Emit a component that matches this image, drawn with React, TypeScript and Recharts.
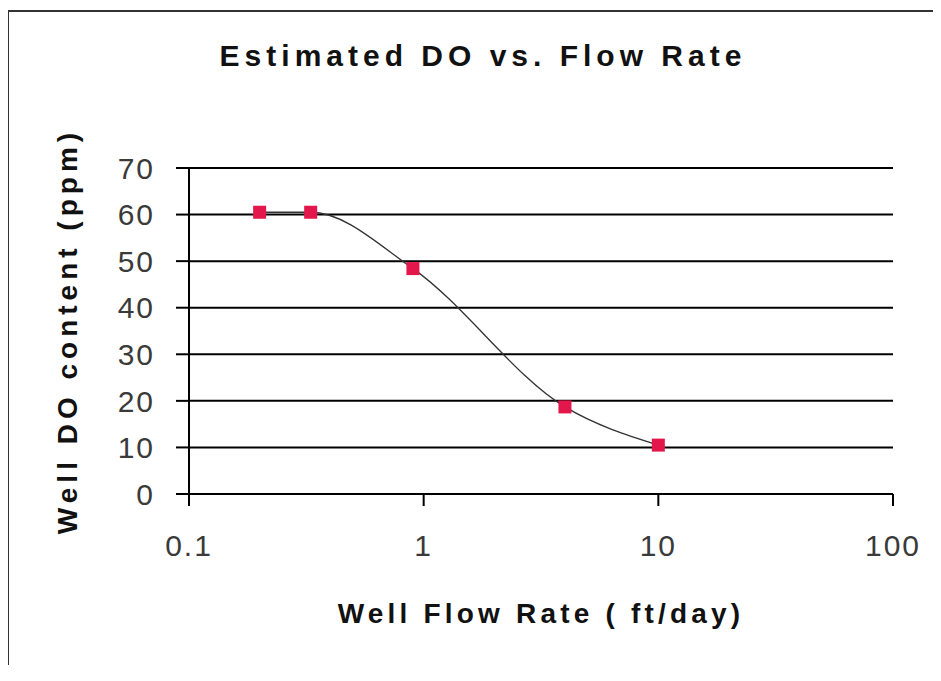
import { LineChart, Line, XAxis, YAxis, CartesianGrid } from 'recharts';

const flowRate = [0.2, 0.33, 0.9, 4, 10];
const doContent = [60.5, 60.5, 48.4, 18.7, 10.5];
const xTicks = [0.1, 1, 10, 100];
const yTicks = [0, 10, 20, 30, 40, 50, 60, 70];

const FONT = '"Liberation Sans", Arial, sans-serif';
const MARKER = '#e3174b';

const data = flowRate.map((x, i) => ({ x, y: doContent[i] }));

function SquareDot(props: any) {
  const { cx, cy, index } = props;
  if (cx == null || cy == null) return null;
  return <rect key={index} x={cx - 6.5} y={cy - 6.5} width={13} height={13} fill={MARKER} />;
}

export default function App() {
  return (
    <div
      style={{
        position: 'relative',
        top: 2,
        left: -1,
        width: 933,
        height: 655,
        borderTop: '2px solid #333',
        borderLeft: '2px solid #333',
        background: '#fff',
        fontFamily: FONT,
      }}
    >
      <div
        style={{
          position: 'absolute',
          top: 27,
          left: 0,
          width: 948,
          textAlign: 'center',
          fontSize: 30,
          fontWeight: 'bold',
          letterSpacing: 5,
          color: '#111',
        }}
      >
        Estimated DO vs. Flow Rate
      </div>
      <LineChart width={933} height={655} data={data} margin={{ top: 156, right: 49, left: 0, bottom: 143 }}>
        <CartesianGrid vertical={false} stroke="#000" strokeWidth={2} />
        <XAxis
          dataKey="x"
          type="number"
          scale="log"
          domain={[0.1, 100]}
          ticks={xTicks}
          allowDataOverflow
          tickFormatter={(v: number) => String(v)}
          tick={{ fill: '#3a3a3a', fontSize: 30, fontFamily: FONT, letterSpacing: 2 }}
          tickSize={12}
          tickMargin={29}
          axisLine={{ stroke: '#000', strokeWidth: 2 }}
          tickLine={{ stroke: '#000', strokeWidth: 2 }}
          height={30}
          label={{
            value: 'Well Flow Rate ( ft/day)',
            position: 'bottom',
            offset: 79,
            fill: '#111',
            fontSize: 28,
            fontWeight: 'bold',
            fontFamily: FONT,
            letterSpacing: 4.2,
          }}
        />
        <YAxis
          type="number"
          domain={[0, 70]}
          ticks={yTicks}
          width={180}
          tick={{ fill: '#3a3a3a', fontSize: 30, fontFamily: FONT, letterSpacing: 2 }}
          tickSize={13}
          tickMargin={21}
          axisLine={{ stroke: '#000', strokeWidth: 2 }}
          tickLine={{ stroke: '#000', strokeWidth: 2 }}
          label={{
            value: 'Well DO content (ppm)',
            position: 'center',
            angle: -90,
            dx: -32,
            fill: '#111',
            fontSize: 28,
            fontWeight: 'bold',
            fontFamily: FONT,
            letterSpacing: 5,
          }}
        />
        <Line
          type="monotone"
          dataKey="y"
          stroke="#333"
          strokeWidth={1.3}
          dot={<SquareDot />}
          activeDot={false}
          isAnimationActive={false}
        />
      </LineChart>
    </div>
  );
}
